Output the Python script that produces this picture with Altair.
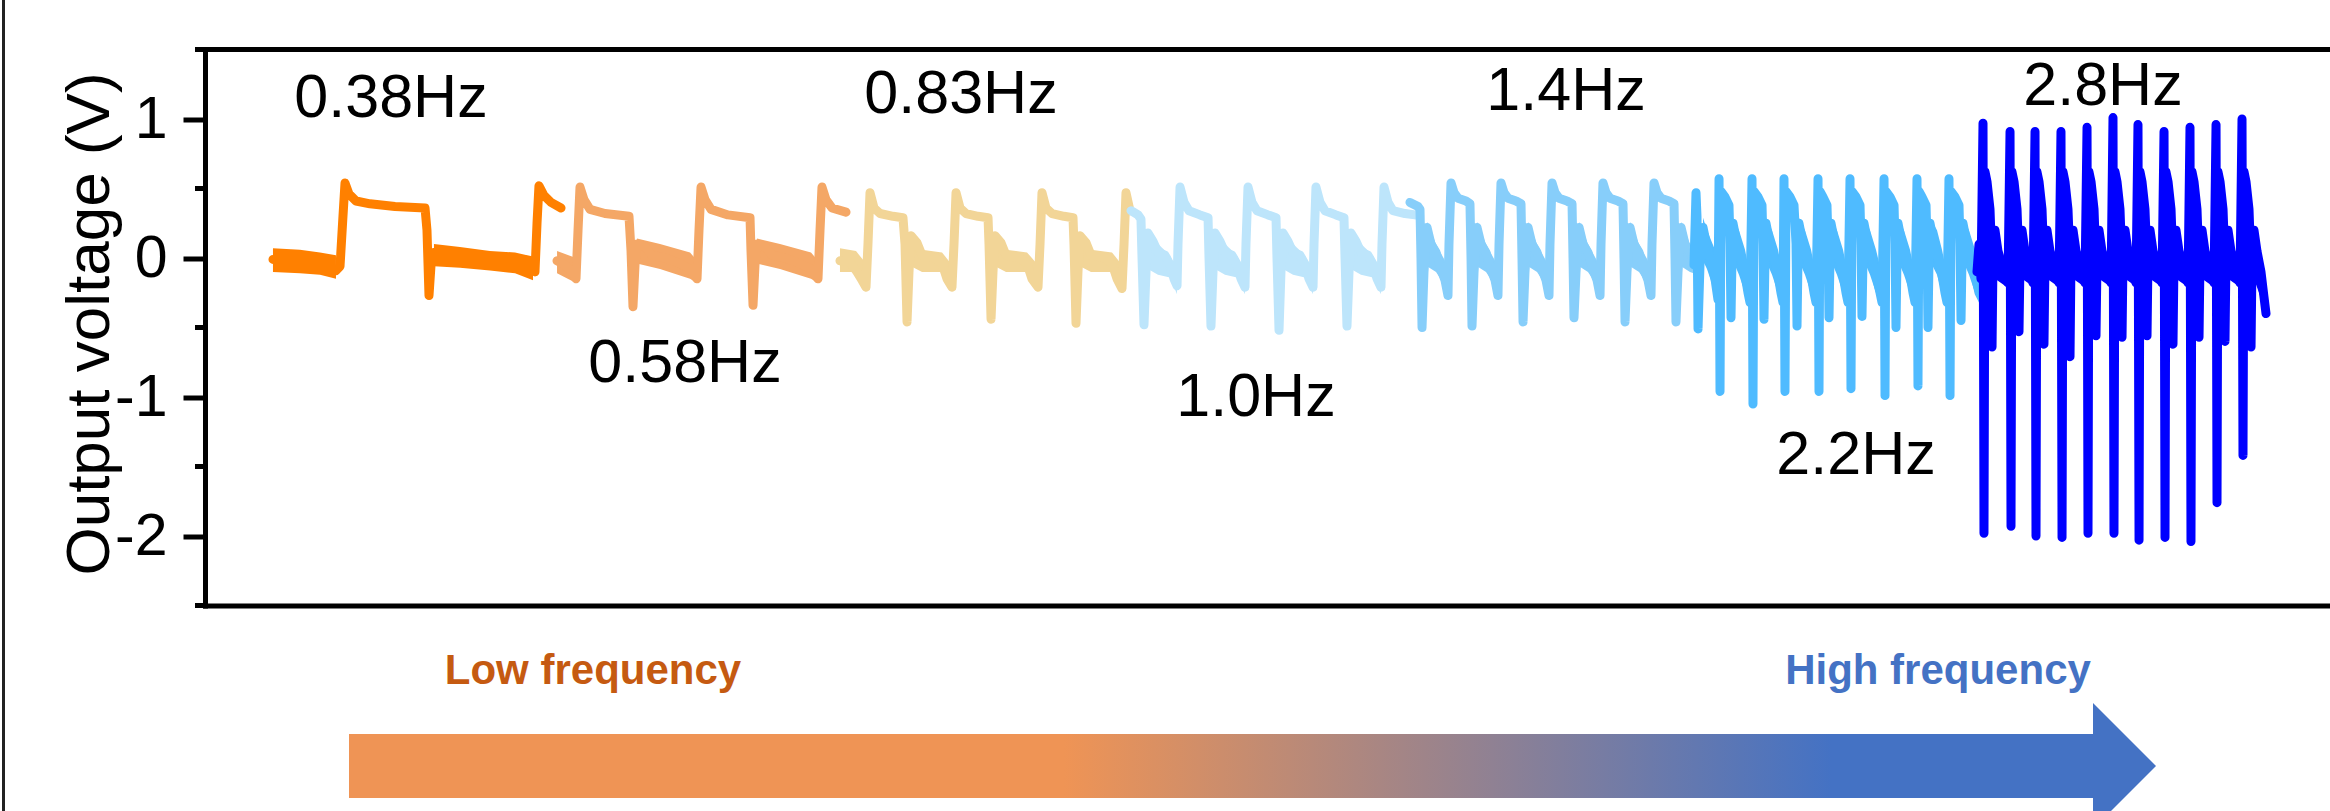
import altair as alt
import pandas as pd

FONT = "Liberation Sans"

# ---------------- data ----------------
segments = ["0.38Hz", "0.58Hz", "0.83Hz", "1.0Hz", "1.4Hz", "2.2Hz", "2.8Hz"]
seg_colors = ["#FF8000", "#F4A766", "#F2D597", "#BDE5FB", "#87CEFA", "#4FBBFF", "#0000FF"]

# (time s, output voltage V)
wave_038 = [(0.971,-0.01),(1.214,-0.01),(1.5,-0.03),(1.757,-0.05),(1.871,-0.09),(1.929,-0.06),(1.971,0.30),(2.0,0.54),
            (2.057,0.46),(2.157,0.41),(2.357,0.39),(2.714,0.37),(3.143,0.36),(3.171,0.20),(3.2,-0.27),(3.229,-0.05),
            (3.271,0.04),(3.5,0.02),(3.857,0.00),(4.214,-0.02),(4.5,-0.04),(4.657,-0.08),(4.714,-0.10),(4.743,0.25),
            (4.771,0.52),(4.843,0.45),(4.943,0.40),(5.086,0.36)]
wave_058 = [(5.029,-0.02),(5.143,-0.05),(5.243,-0.10),(5.3,-0.15),(5.329,0.20),(5.357,0.51),(5.414,0.42),(5.5,0.35),
            (5.714,0.32),(6.057,0.30),(6.086,0.05),(6.114,-0.35),(6.143,-0.05),(6.171,0.10),(6.286,0.08),(6.386,0.02),
            (6.571,0.00),(6.786,-0.04),(6.929,-0.08),(7.029,-0.15),(7.057,0.20),(7.086,0.51),(7.143,0.42),(7.229,0.35),
            (7.471,0.31),(7.786,0.29),(7.8,0.05),(7.829,-0.34),(7.857,-0.05),(7.886,0.10),(8.0,0.08),(8.1,0.02),
            (8.286,0.00),(8.5,-0.04),(8.657,-0.08),(8.757,-0.15),(8.786,0.20),(8.814,0.51),(8.871,0.42),(8.957,0.36),
            (9.157,0.33)]
wave_083 = [(9.071,-0.02),(9.214,-0.03),(9.314,-0.10),(9.386,-0.16),(9.443,-0.21),(9.471,0.10),(9.5,0.47),(9.557,0.36),
            (9.643,0.32),(9.829,0.30),(9.971,0.29),(10.0,0.10),(10.029,-0.46),(10.057,-0.10),(10.086,0.16),(10.171,0.11),
            (10.243,0.02),(10.429,0.00),(10.529,-0.04),(10.6,-0.15),(10.671,-0.21),(10.7,0.10),(10.729,0.47),(10.786,0.36),
            (10.871,0.32),(11.043,0.30),(11.186,0.29),(11.2,0.10),(11.229,-0.44),(11.257,-0.10),(11.286,0.16),(11.371,0.11),
            (11.443,0.02),(11.643,0.00),(11.743,-0.04),(11.814,-0.15),(11.9,-0.21),(11.929,0.10),(11.957,0.47),(12.014,0.36),
            (12.1,0.32),(12.271,0.30),(12.4,0.29),(12.414,0.10),(12.443,-0.47),(12.471,-0.10),(12.5,0.16),(12.586,0.11),
            (12.657,0.02),(12.857,0.00),(12.957,-0.04),(13.029,-0.15),(13.1,-0.22),(13.129,0.10),(13.157,0.47),(13.214,0.34)]
wave_10 = [(13.229,0.34),(13.329,0.31),(13.371,0.28),(13.386,0.0),(13.414,-0.48),(13.443,-0.10),(13.471,0.18),(13.543,0.12),
           (13.614,0.04),(13.714,0.02),(13.786,-0.05),(13.843,-0.15),(13.886,-0.20),(13.9,0.10),(13.929,0.51),(13.986,0.40),
           (14.057,0.34),(14.214,0.31),(14.329,0.29),(14.343,0.0),(14.371,-0.49),(14.4,-0.10),(14.429,0.18),(14.5,0.12),
           (14.571,0.04),(14.671,0.02),(14.743,-0.05),(14.8,-0.15),(14.857,-0.21),(14.871,0.10),(14.9,0.51),(14.957,0.40),
           (15.029,0.34),(15.186,0.31),(15.3,0.29),(15.314,0.0),(15.343,-0.52),(15.371,-0.10),(15.4,0.18),(15.471,0.12),
           (15.543,0.04),(15.643,0.02),(15.714,-0.05),(15.771,-0.15),(15.829,-0.21),(15.843,0.10),(15.871,0.51),(15.929,0.40),
           (16.0,0.34),(16.157,0.31),(16.271,0.29),(16.286,0.0),(16.314,-0.49),(16.343,-0.10),(16.371,0.18),(16.443,0.12),
           (16.514,0.04),(16.614,0.02),(16.686,-0.05),(16.743,-0.15),(16.8,-0.21),(16.814,0.10),(16.843,0.51),(16.9,0.40),
           (16.971,0.34),(17.143,0.32),(17.286,0.31)]
wave_14 = [(17.214,0.40),(17.329,0.37),(17.357,0.35),(17.371,0.0),(17.386,-0.50),(17.414,-0.10),(17.457,0.22),(17.514,0.10),
           (17.586,0.04),(17.657,-0.08),(17.714,-0.16),(17.757,-0.27),(17.771,0.10),(17.8,0.54),(17.843,0.47),(17.9,0.43),
           (18.014,0.41),(18.071,0.39),(18.086,0.0),(18.1,-0.49),(18.129,-0.10),(18.171,0.22),(18.229,0.10),(18.3,0.04),
           (18.371,-0.08),(18.429,-0.16),(18.471,-0.27),(18.486,0.10),(18.514,0.54),(18.557,0.47),(18.614,0.43),(18.729,0.41),
           (18.8,0.39),(18.814,0.0),(18.829,-0.46),(18.857,-0.10),(18.9,0.22),(18.957,0.10),(19.029,0.04),(19.1,-0.08),
           (19.157,-0.16),(19.2,-0.27),(19.214,0.10),(19.243,0.54),(19.286,0.47),(19.343,0.43),(19.457,0.41),(19.529,0.39),
           (19.543,0.0),(19.557,-0.43),(19.586,-0.10),(19.629,0.22),(19.686,0.10),(19.757,0.04),(19.829,-0.08),(19.886,-0.16),
           (19.929,-0.27),(19.943,0.10),(19.971,0.54),(20.014,0.47),(20.071,0.43),(20.186,0.41),(20.257,0.39),(20.271,0.0),
           (20.286,-0.46),(20.314,-0.10),(20.357,0.22),(20.414,0.10),(20.486,0.04),(20.557,-0.08),(20.614,-0.16),(20.657,-0.27),
           (20.671,0.10),(20.7,0.54),(20.743,0.47),(20.8,0.43),(20.914,0.41),(20.986,0.39),(21.0,0.0),(21.014,-0.46),
           (21.043,-0.10),(21.086,0.22),(21.143,0.10),(21.214,0.04),(21.286,-0.04),(21.329,-0.05)]
wave_22 = [(21.271,-0.05),(21.3,0.47),(21.314,0.30),(21.329,-0.51),(21.357,-0.05),(21.4,0.22),(21.457,0.08),(21.514,-0.02),
           (21.571,-0.15),(21.614,-0.30),
           (21.629,0.57),(21.643,-0.96),(21.657,0.48),(21.714,0.44),(21.771,0.38),(21.786,0.10),(21.8,-0.43),(21.814,0.0),
           (21.829,0.25),(21.886,0.10),(21.943,0.0),(22.0,-0.12),(22.043,-0.25),(22.071,-0.32),
           (22.1,0.57),(22.114,-1.05),(22.129,0.48),(22.186,0.44),(22.243,0.38),(22.257,0.10),(22.271,-0.44),(22.286,0.0),
           (22.3,0.25),(22.357,0.10),(22.414,0.0),(22.471,-0.12),(22.514,-0.25),(22.543,-0.32),
           (22.557,0.57),(22.571,-0.96),(22.586,0.48),(22.643,0.44),(22.7,0.38),(22.729,0.10),(22.743,-0.49),(22.757,0.0),
           (22.771,0.25),(22.829,0.10),(22.886,0.0),(22.943,-0.12),(22.986,-0.25),(23.014,-0.32),
           (23.043,0.57),(23.057,-0.96),(23.071,0.48),(23.114,0.44),(23.171,0.38),(23.186,0.10),(23.2,-0.43),(23.214,0.0),
           (23.229,0.25),(23.286,0.10),(23.343,0.0),(23.4,-0.12),(23.443,-0.25),(23.471,-0.32),
           (23.5,0.57),(23.514,-0.94),(23.529,0.48),(23.586,0.44),(23.643,0.38),(23.657,0.10),(23.671,-0.42),(23.686,0.0),
           (23.7,0.25),(23.757,0.10),(23.814,0.0),(23.871,-0.12),(23.929,-0.25),(23.957,-0.32),
           (23.986,0.57),(24.0,-0.99),(24.014,0.48),(24.071,0.44),(24.129,0.38),(24.143,0.10),(24.157,-0.50),(24.171,0.0),
           (24.186,0.25),(24.243,0.10),(24.3,0.0),(24.357,-0.12),(24.4,-0.25),(24.429,-0.32),
           (24.457,0.57),(24.471,-0.92),(24.486,0.48),(24.529,0.44),(24.586,0.38),(24.6,0.10),(24.614,-0.50),(24.629,0.0),
           (24.643,0.25),(24.7,0.10),(24.757,0.0),(24.814,-0.12),(24.857,-0.25),(24.886,-0.32),
           (24.914,0.57),(24.929,-0.99),(24.943,0.48),(25.0,0.44),(25.057,0.38),(25.071,0.10),(25.086,-0.45),(25.1,0.0),
           (25.114,0.25),(25.171,0.10),(25.229,0.0),(25.286,-0.12),(25.343,-0.25),(25.414,-0.32)]
wave_28 = [(25.314,-0.10),(25.343,0.10),(25.371,-0.15),
           (25.4,0.97),(25.414,-1.98),(25.429,0.62),(25.457,0.55),(25.5,0.35),(25.514,0.15),(25.529,-0.64),(25.543,0.0),
           (25.571,0.20),(25.614,0.05),(25.671,-0.05),(25.729,-0.12),(25.757,-0.18),
           (25.786,0.91),(25.8,-1.93),(25.814,0.62),(25.843,0.55),(25.886,0.35),(25.9,0.15),(25.914,-0.53),(25.929,0.0),
           (25.957,0.20),(26.0,0.05),(26.043,-0.05),(26.086,-0.12),(26.114,-0.18),
           (26.143,0.91),(26.157,-2.00),(26.171,0.62),(26.2,0.55),(26.243,0.35),(26.257,0.15),(26.271,-0.62),(26.286,0.0),
           (26.314,0.20),(26.357,0.05),(26.414,-0.05),(26.457,-0.12),(26.486,-0.18),
           (26.514,0.91),(26.529,-2.01),(26.543,0.62),(26.571,0.55),(26.614,0.35),(26.629,0.15),(26.643,-0.71),(26.657,0.0),
           (26.686,0.20),(26.729,0.05),(26.786,-0.05),(26.829,-0.12),(26.857,-0.18),
           (26.886,0.94),(26.9,-1.98),(26.914,0.62),(26.943,0.55),(26.986,0.35),(27.0,0.15),(27.014,-0.56),(27.029,0.0),
           (27.057,0.20),(27.1,0.05),(27.157,-0.05),(27.2,-0.12),(27.229,-0.18),
           (27.257,1.01),(27.271,-1.98),(27.286,0.62),(27.314,0.55),(27.357,0.35),(27.371,0.15),(27.386,-0.57),(27.4,0.0),
           (27.429,0.20),(27.471,0.05),(27.514,-0.05),(27.557,-0.12),(27.586,-0.18),
           (27.614,0.96),(27.629,-2.03),(27.643,0.62),(27.671,0.55),(27.714,0.35),(27.729,0.15),(27.743,-0.56),(27.757,0.0),
           (27.786,0.20),(27.829,0.05),(27.886,-0.05),(27.929,-0.12),(27.957,-0.18),
           (27.986,0.91),(28.0,-2.01),(28.014,0.62),(28.043,0.55),(28.086,0.35),(28.1,0.15),(28.114,-0.62),(28.129,0.0),
           (28.157,0.20),(28.2,0.05),(28.257,-0.05),(28.3,-0.12),(28.329,-0.18),
           (28.357,0.94),(28.371,-2.04),(28.386,0.62),(28.414,0.55),(28.457,0.35),(28.471,0.15),(28.486,-0.57),(28.5,0.0),
           (28.529,0.20),(28.571,0.05),(28.629,-0.05),(28.671,-0.12),(28.7,-0.18),
           (28.729,0.96),(28.743,-1.76),(28.757,0.62),(28.786,0.55),(28.829,0.35),(28.843,0.15),(28.857,-0.60),(28.871,0.0),
           (28.9,0.20),(28.943,0.05),(29.0,-0.05),(29.043,-0.12),(29.071,-0.18),
           (29.1,1.00),(29.114,-1.42),(29.129,0.62),(29.157,0.55),(29.2,0.35),(29.214,0.15),(29.229,-0.64),(29.243,0.0),
           (29.271,0.20),(29.314,0.05),(29.371,-0.10),(29.414,-0.28),(29.443,-0.40)]
waves = [wave_038, wave_058, wave_083, wave_10, wave_14, wave_22, wave_28]

# noisy / dense envelopes: (time s, lower V, upper V)
bands_038 = [[(0.971,-0.10,0.07),(1.357,-0.11,0.06),(1.643,-0.12,0.04),(1.871,-0.15,0.02)],
             [(3.271,-0.06,0.10),(3.643,-0.07,0.08),(4.071,-0.09,0.05),(4.429,-0.11,0.04),(4.686,-0.16,0.01)]]
bands_058 = [[(5.029,-0.11,0.05),(5.3,-0.18,0.0)],
             [(6.171,-0.04,0.14),(6.5,-0.08,0.10),(6.929,-0.15,0.04),(7.029,-0.18,-0.02)],
             [(7.886,-0.04,0.14),(8.214,-0.08,0.10),(8.657,-0.15,0.04),(8.757,-0.18,-0.02)]]
bands_083 = [[(9.071,-0.10,0.07),(9.3,-0.10,0.05),(9.443,-0.22,-0.04)],
             [(10.086,-0.06,0.17),(10.243,-0.10,0.06),(10.529,-0.10,0.04),(10.671,-0.22,-0.05)],
             [(11.286,-0.06,0.17),(11.443,-0.10,0.06),(11.743,-0.10,0.04),(11.9,-0.22,-0.05)],
             [(12.5,-0.06,0.17),(12.657,-0.10,0.06),(12.957,-0.10,0.04),(13.1,-0.22,-0.05)]]
bands_10 = [[(13.471,-0.08,0.20),(13.614,-0.12,0.10),(13.786,-0.14,0.02),(13.886,-0.26,-0.08)],
            [(14.429,-0.08,0.20),(14.571,-0.12,0.10),(14.743,-0.14,0.02),(14.857,-0.26,-0.08)],
            [(15.4,-0.08,0.20),(15.543,-0.12,0.10),(15.714,-0.14,0.02),(15.829,-0.26,-0.08)],
            [(16.371,-0.08,0.20),(16.514,-0.12,0.10),(16.686,-0.14,0.02),(16.8,-0.26,-0.08)]]
bands_14 = [[(17.457,-0.06,0.26),(17.586,-0.10,0.10),(17.714,-0.20,-0.02),(17.757,-0.30,-0.12)],
            [(18.171,-0.06,0.26),(18.3,-0.10,0.10),(18.429,-0.20,-0.02),(18.471,-0.30,-0.12)],
            [(18.9,-0.06,0.26),(19.029,-0.10,0.10),(19.157,-0.20,-0.02),(19.2,-0.30,-0.12)],
            [(19.629,-0.06,0.26),(19.757,-0.10,0.10),(19.886,-0.20,-0.02),(19.929,-0.30,-0.12)],
            [(20.357,-0.06,0.26),(20.486,-0.10,0.10),(20.614,-0.20,-0.02),(20.657,-0.30,-0.12)],
            [(21.086,-0.06,0.26),(21.214,-0.10,0.10),(21.329,-0.12,0.02)]]
bands_22 = [[(21.4,-0.02,0.29),(21.457,-0.08,0.20),(21.571,-0.25,0.06),(21.614,-0.36,-0.12)],
            [(21.829,-0.02,0.29),(21.914,-0.12,0.20),(22.0,-0.25,0.06),(22.071,-0.36,-0.12)],
            [(22.3,-0.02,0.29),(22.386,-0.12,0.20),(22.471,-0.25,0.06),(22.543,-0.36,-0.12)],
            [(22.771,-0.02,0.29),(22.857,-0.12,0.20),(22.943,-0.25,0.06),(23.014,-0.36,-0.12)],
            [(23.229,-0.02,0.29),(23.314,-0.12,0.20),(23.4,-0.25,0.06),(23.471,-0.36,-0.12)],
            [(23.7,-0.02,0.29),(23.786,-0.12,0.20),(23.871,-0.25,0.06),(23.957,-0.36,-0.12)],
            [(24.186,-0.02,0.29),(24.271,-0.12,0.20),(24.357,-0.25,0.06),(24.429,-0.36,-0.12)],
            [(24.643,-0.02,0.29),(24.743,-0.12,0.20),(24.814,-0.25,0.06),(24.886,-0.36,-0.12)],
            [(25.114,-0.02,0.29),(25.2,-0.12,0.20),(25.286,-0.25,0.06),(25.414,-0.36,-0.12)]]
bands_28 = [[(25.429,0.30,0.62),(25.5,0.0,0.40),(25.571,-0.15,0.15),(25.714,-0.20,-0.02)],
            [(25.814,0.30,0.62),(25.886,0.0,0.40),(25.957,-0.15,0.15),(26.1,-0.20,-0.02)],
            [(26.171,0.30,0.62),(26.243,0.0,0.40),(26.314,-0.15,0.15),(26.457,-0.20,-0.02)],
            [(26.543,0.30,0.62),(26.614,0.0,0.40),(26.686,-0.15,0.15),(26.829,-0.20,-0.02)],
            [(26.914,0.30,0.62),(26.986,0.0,0.40),(27.057,-0.15,0.15),(27.2,-0.20,-0.02)],
            [(27.286,0.30,0.62),(27.357,0.0,0.40),(27.429,-0.15,0.15),(27.571,-0.20,-0.02)],
            [(27.643,0.30,0.62),(27.714,0.0,0.40),(27.786,-0.15,0.15),(27.929,-0.20,-0.02)],
            [(28.014,0.30,0.62),(28.086,0.0,0.40),(28.157,-0.15,0.15),(28.3,-0.20,-0.02)],
            [(28.386,0.30,0.62),(28.457,0.0,0.40),(28.529,-0.15,0.15),(28.671,-0.20,-0.02)],
            [(28.757,0.30,0.62),(28.829,0.0,0.40),(28.9,-0.15,0.15),(29.043,-0.20,-0.02)],
            [(29.129,0.30,0.62),(29.2,0.0,0.40),(29.271,-0.15,0.15),(29.414,-0.35,-0.10)]]
bands = [bands_038, bands_058, bands_083, bands_10, bands_14, bands_22, bands_28]

label_text = ["0.38Hz", "0.58Hz", "0.83Hz", "1.0Hz", "1.4Hz", "2.2Hz", "2.8Hz"]
label_t = [2.657, 6.857, 10.8, 15.014, 19.443, 23.586, 27.114]
label_v = [1.014, -0.894, 1.043, -1.139, 1.064, -1.556, 1.10]

y_major = [-2, -1, 0, 1]
y_minor = [-2.5, -1.5, -0.5, 0.5, 1.5]

# ---------------- tables ----------------
rows = []
for seg, pts in zip(segments, waves):
    for i, (t, v) in enumerate(pts):
        rows.append({"seg": seg, "i": i, "t": t, "v": v})
wave_df = pd.DataFrame(rows)

brows = []
for seg, blist in zip(segments, bands):
    for k, b in enumerate(blist):
        for (t, lo, hi) in b:
            brows.append({"seg": seg, "band": f"{seg}_{k}", "t": t, "lo": lo, "hi": hi})
band_df = pd.DataFrame(brows)

label_df = pd.DataFrame({"label": label_text, "t": label_t, "v": label_v})
one = pd.DataFrame({"a": [0]})

# ---------------- chart ----------------
W, H = 2125, 556
x_scale = alt.Scale(domain=[0, 30.357], nice=False, zero=False)
y_scale = alt.Scale(domain=[-2.5, 1.5], nice=False, zero=False)
color_scale = alt.Scale(domain=segments, range=seg_colors)

x_axis = alt.Axis(labels=False, ticks=False, title=None, domain=True, domainWidth=5,
                  domainColor="black", grid=False, domainCap="square")
y_axis = alt.Axis(values=y_major, title="Output voltage (V)", domain=True, domainWidth=5,
                  domainColor="black", domainCap="square", ticks=True, tickSize=22, tickWidth=5,
                  tickColor="black", labelFont=FONT, labelFontSize=59, labelColor="black",
                  labelPadding=16, labelExpr="replace(datum.label, '\u2212', '-')", grid=False,
                  titleFont=FONT, titleFontSize=62, titleFontWeight="normal", titleColor="black",
                  titleX=-97, titleY=274, titleAngle=-90, titleAlign="center",
                  titleBaseline="alphabetic")

X = lambda f: alt.X(f, scale=x_scale, axis=x_axis)
Y = lambda f: alt.Y(f, scale=y_scale, axis=y_axis)

band_layer = alt.Chart(band_df).mark_area(opacity=1).encode(
    x=X("t:Q"), y=Y("lo:Q"), y2="hi:Q",
    color=alt.Color("seg:N", scale=color_scale, legend=None),
    detail="band:N",
)

line_layer = alt.Chart(wave_df).mark_line(strokeWidth=9, strokeCap="round", strokeJoin="round").encode(
    x=X("t:Q"), y=Y("v:Q"),
    color=alt.Color("seg:N", scale=color_scale, legend=None),
    detail="seg:N",
    order="i:Q",
)

label_layer = alt.Chart(label_df).mark_text(font=FONT, fontSize=61, color="black", align="center",
                                            baseline="alphabetic").encode(
    x=X("t:Q"), y=Y("v:Q"), text="label:N",
)

minor_ticks = alt.Chart(pd.DataFrame({"m": y_minor})).mark_rule(color="black", strokeWidth=5).encode(
    y=Y("m:Q"), x=alt.value(-10), x2=alt.value(0))

top_rule = alt.Chart(one).mark_rule(color="black", strokeWidth=5).encode(
    x=alt.value(0), x2=alt.value(W), y=alt.value(0))

left_border = alt.Chart(one).mark_rule(color="#222222", strokeWidth=3).encode(
    x=alt.value(-201.5), y=alt.value(-49.5), y2=alt.value(761.5))

gradient = {"gradient": "linear", "x1": 0, "y1": 0, "x2": 1, "y2": 0,
            "stops": [{"offset": 0, "color": "#EF9455"}, {"offset": 0.41, "color": "#EF9455"},
                      {"offset": 0.85, "color": "#4472C4"}, {"offset": 1, "color": "#4472C4"}]}
arrow_bar = alt.Chart(one).mark_rect(color=gradient, strokeWidth=0).encode(
    x=alt.value(144), x2=alt.value(1888), y=alt.value(684.5), y2=alt.value(748.5))
arrow_head = alt.Chart(one).mark_point(shape="M-1,-2L1,0L-1,2Z", size=3969, filled=True,
                                       color="#4472C4", opacity=1, strokeWidth=0).encode(
    x=alt.value(1919.5), y=alt.value(716.5))

low_text = alt.Chart(one).mark_text(text="Low frequency", font=FONT, fontSize=42, fontWeight="bold",
                                    color="#C55A11", align="center", baseline="alphabetic").encode(
    x=alt.value(388), y=alt.value(634.5))
high_text = alt.Chart(one).mark_text(text="High frequency", font=FONT, fontSize=42, fontWeight="bold",
                                     color="#4472C4", align="center", baseline="alphabetic").encode(
    x=alt.value(1733), y=alt.value(634.5))

chart = alt.layer(
    band_layer, line_layer, label_layer, minor_ticks, top_rule, left_border,
    arrow_bar, arrow_head, low_text, high_text,
).properties(
    width=W, height=H,
    autosize=alt.AutoSizeParams(type="none"),
    padding={"left": 205, "right": 0, "top": 49.5, "bottom": 205.5},
    background="white",
).configure_view(stroke=None)

chart.save("out.html", embed_options={"renderer": "svg", "actions": False})
